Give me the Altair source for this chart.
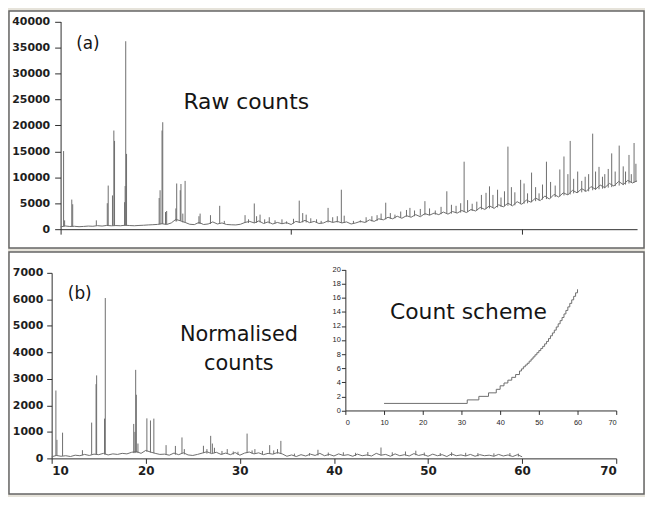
import altair as alt
import pandas as pd

# ---------------- (a) raw counts ----------------
raw_base_x = [10.0, 10.4, 10.8, 11.2, 11.6, 12.0, 12.4, 12.8, 13.2, 13.6,
              14.0, 14.4, 14.8, 15.2, 15.6, 16.0, 16.4, 16.8, 17.2, 17.6,
              18.0, 18.4, 18.8, 19.2, 19.6, 20.0, 20.4, 20.8, 21.2, 21.6,
              22.0, 22.4, 22.8, 23.2, 23.6, 24.0, 24.4, 24.8, 25.2, 25.6,
              26.0, 26.4, 26.8, 27.2, 27.6, 28.0, 28.4, 28.8, 29.2, 29.6,
              30.0, 30.4, 30.8, 31.2, 31.6, 32.0, 32.4, 32.8, 33.2, 33.6,
              34.0, 34.4, 34.8, 35.2, 35.6, 36.0, 36.4, 36.8, 37.2, 37.6,
              38.0, 38.4, 38.8, 39.2, 39.6, 40.0, 40.4, 40.8, 41.2, 41.6,
              42.0, 42.4, 42.8, 43.2, 43.6, 44.0, 44.4, 44.8, 45.2, 45.6,
              46.0, 46.4, 46.8, 47.2, 47.6, 48.0, 48.4, 48.8, 49.2, 49.6,
              50.0, 50.4, 50.8, 51.2, 51.6, 52.0, 52.4, 52.8, 53.2, 53.6,
              54.0, 54.4, 54.8, 55.2, 55.6, 56.0, 56.4, 56.8, 57.2, 57.6,
              58.0, 58.4, 58.8, 59.2, 59.6, 60.0]
raw_base_y = [450, 620, 520, 560, 480, 530, 600, 560, 680, 600,
              720, 650, 700, 660, 760, 700, 660, 720, 760, 820,
              860, 920, 1050, 900, 1200, 1900, 1600, 1300, 950, 880,
              1300, 900, 1000, 1400, 1000, 1200, 900, 850, 820, 950,
              1300, 1500, 1200, 1600, 1100, 1400, 1000, 1300, 1050, 1250,
              900, 1500, 1300, 1700, 1250, 1500, 1100, 1200, 1600, 1300,
              1500, 1200, 1400, 1000, 1200, 1500, 1300, 1800, 1500, 2000,
              1800, 2300, 2000, 2500, 2100, 2600, 2300, 2800, 2400, 3000,
              2700, 3100, 2800, 3300, 2900, 3400, 3100, 3600, 3200, 3800,
              3500, 4200, 3800, 4500, 4000, 4700, 4300, 5000, 4500, 5300,
              4800, 5600, 5200, 6000, 5500, 6400, 5800, 6700, 6200, 7000,
              6600, 7500, 7000, 7800, 7300, 8200, 7700, 8500, 8000, 8800,
              8300, 9200, 8600, 9400, 8900, 9300]

raw_peak_x = [10.26, 10.35, 10.97, 11.05, 13.1, 14.05, 14.13, 14.5, 14.62, 14.68,
              15.55, 15.6, 15.65, 15.72, 18.55, 18.63, 18.8, 18.86, 19.1, 19.2,
              20.0, 20.07, 20.38, 20.44, 20.6, 20.8, 22.0, 22.1, 23.0, 23.8,
              24.2, 26.0, 26.3, 26.8, 27.0, 27.3, 27.7, 28.1, 28.6, 29.2,
              29.6, 30.2, 30.7, 31.0, 31.3, 31.7, 32.2, 32.6, 33.2, 33.6,
              34.0, 34.35, 34.6, 35.4, 36.0, 36.5, 37.0, 37.45, 37.8, 38.2,
              38.6, 39.0, 39.5, 40.0, 40.3, 40.7, 41.2, 41.6, 42.0, 42.5,
              43.0, 43.5, 43.9, 44.3, 44.7, 45.0, 45.3, 45.7, 46.1, 46.5,
              46.9, 47.2, 47.5, 47.9, 48.2, 48.5, 48.8, 49.1, 49.4, 49.9,
              50.2, 50.5, 50.85, 51.2, 51.5, 51.8, 52.14, 52.5, 52.9, 53.3,
              53.66, 54.0, 54.2, 54.5, 54.85, 55.2, 55.5, 55.8, 56.15, 56.4,
              56.7, 57.0, 57.2, 57.5, 57.8, 58.1, 58.45, 58.8, 59.0, 59.3,
              59.5, 59.74, 59.9]
raw_peak_base = [550, 550, 520, 520, 650, 700, 700, 650, 650, 650,
                 700, 700, 700, 700, 950, 950, 1000, 1000, 950, 950,
                 1500, 1500, 1600, 1600, 1300, 1300, 1000, 1000, 1000, 1000,
                 1000, 1200, 1200, 1200, 1200, 1300, 1100, 1100, 1100, 1050,
                 1050, 1100, 1200, 1300, 1300, 1250, 1200, 1100, 1300, 1300,
                 1300, 1200, 1200, 1100, 1300, 1300, 1500, 1600, 1800, 1900,
                 2000, 2100, 2200, 2400, 2400, 2500, 2600, 2700, 2700, 2800,
                 2900, 3000, 3000, 3100, 3200, 3300, 3300, 3500, 3600, 3800,
                 3900, 4000, 4100, 4200, 4300, 4400, 4500, 4500, 4600, 4800,
                 4900, 5000, 5200, 5400, 5500, 5700, 5800, 6000, 6200, 6300,
                 6500, 6600, 6700, 6900, 7000, 7100, 7200, 7300, 7500, 7600,
                 7700, 7800, 7900, 8000, 8100, 8300, 8400, 8500, 8600, 8800,
                 8900, 9000, 9100]
raw_peak_top = [15050, 1700, 5700, 4800, 1700, 5000, 8400, 6500, 19000, 17000,
                5200, 8300, 36200, 14500, 6000, 7500, 19000, 20600, 3300, 3500,
                4000, 8800, 7500, 8700, 3000, 9300, 2500, 3000, 2700, 4500,
                1600, 2700, 1900, 4950, 2500, 2800, 1900, 2300, 1700, 1900,
                1500, 2000, 5500, 3100, 2800, 2100, 1900, 1600, 4100, 2300,
                2500, 7600, 2600, 1600, 1700, 2300, 2500, 2700, 3000, 5100,
                3100, 2800, 3400, 3700, 4100, 3600, 3900, 5400, 4000, 3600,
                4300, 7300, 4700, 4500, 5000, 13000, 5600, 4900, 5300, 6600,
                7000, 8250, 6600, 7600, 6100, 7300, 15900, 8100, 7100, 9500,
                8800, 6900, 10900, 8100, 6900, 8600, 13000, 9100, 8400, 11500,
                14000, 10600, 17000, 9700, 11100, 9300, 10100, 10600, 18400, 11100,
                12000, 10100, 10600, 11600, 14600, 11100, 16100, 12100, 11100, 14300,
                10600, 16600, 12600]

raw_y_ticks = [0, 5000, 10000, 15000, 20000, 25000, 30000, 35000, 40000]

# ---------------- (b) normalised counts ----------------
norm_base_x = [10.0, 10.5, 11.0, 11.5, 12.0, 12.5, 13.0, 13.5, 14.0, 14.5,
               15.0, 15.5, 16.0, 16.5, 17.0, 17.5, 18.0, 18.5, 19.0, 19.5,
               20.0, 20.5, 21.0, 21.5, 22.0, 22.5, 23.0, 23.5, 24.0, 24.5,
               25.0, 25.5, 26.0, 26.5, 27.0, 27.5, 28.0, 28.5, 29.0, 29.5,
               30.0, 30.5, 31.0, 31.5, 32.0, 32.5, 33.0, 33.5, 34.0, 34.5,
               35.0, 35.5, 36.0, 36.5, 37.0, 37.5, 38.0, 38.5, 39.0, 39.5,
               40.0, 40.5, 41.0, 41.5, 42.0, 42.5, 43.0, 43.5, 44.0, 44.5,
               45.0, 45.5, 46.0, 46.5, 47.0, 47.5, 48.0, 48.5, 49.0, 49.5,
               50.0, 50.5, 51.0, 51.5, 52.0, 52.5, 53.0, 53.5, 54.0, 54.5,
               55.0, 55.5, 56.0, 56.5, 57.0, 57.5, 58.0, 58.5, 59.0, 59.5,
               60.0]
norm_base_y = [60, 110, 80, 100, 70, 120, 100, 150, 110, 160,
               140, 190, 130, 170, 150, 190, 170, 230, 260, 190,
               300, 240, 190, 150, 160, 120, 200, 140, 210, 130,
               110, 150, 200, 250, 180, 230, 150, 200, 140, 220,
               120, 200, 240, 170, 210, 140, 190, 160, 220, 170,
               80, 130, 70, 140, 90, 160, 110, 190, 100, 150,
               90, 170, 110, 140, 80, 160, 100, 130, 90, 190,
               120, 150, 80, 170, 100, 140, 90, 180, 110, 150,
               80, 160, 100, 140, 70, 170, 100, 130, 90, 150,
               80, 140, 100, 120, 80, 150, 90, 130, 70, 140,
               60]

norm_peak_x = [10.45, 10.56, 11.16, 13.27, 14.25, 14.72, 14.78, 15.62, 15.7, 18.72,
               18.85, 18.93, 19.0, 19.17, 20.12, 20.5, 20.86, 22.16, 23.15, 23.85,
               24.1, 26.13, 26.5, 26.9, 27.08, 27.3, 28.1, 28.66, 29.3, 29.8,
               30.77, 31.3, 31.6, 32.4, 33.17, 33.6, 34.0, 34.36, 35.8, 37.4,
               38.3, 39.4, 41.0, 42.3, 43.6, 45.0, 46.2, 47.6, 48.7, 49.6,
               51.3, 52.5, 54.0, 55.3, 57.0, 58.7, 59.6]
norm_peak_base = [90, 90, 90, 120, 140, 160, 160, 150, 150, 200,
                  200, 220, 220, 200, 250, 220, 200, 150, 140, 180,
                  150, 200, 180, 200, 200, 200, 150, 170, 150, 140,
                  200, 180, 180, 150, 170, 160, 180, 170, 90, 100,
                  110, 100, 110, 90, 100, 110, 90, 110, 120, 100,
                  90, 90, 90, 80, 80, 80, 70]
norm_peak_top = [2560, 700, 970, 310, 1350, 2800, 3130, 1500, 6050, 1300,
                 1000, 3340, 2400, 560, 1510, 1430, 1500, 500, 470, 790,
                 350, 475, 350, 850, 560, 400, 280, 350, 260, 250,
                 935, 300, 350, 280, 500, 300, 350, 660, 180, 200,
                 325, 220, 230, 210, 240, 410, 230, 260, 290, 220,
                 200, 230, 210, 200, 190, 200, 180]

norm_x_ticks = [10, 20, 30, 40, 50, 60, 70]
norm_y_ticks = [0, 1000, 2000, 3000, 4000, 5000, 6000, 7000]

# ---------------- inset: count scheme ----------------
scheme_x = [10, 31.5, 34.5, 37, 39, 40, 41, 42, 43, 44, 45, 45.5, 46, 46.5, 47,
            47.5, 48, 48.5, 49, 49.5, 50, 50.5, 51, 51.5, 52, 52.5, 53, 53.5, 54,
            54.5, 55, 55.5, 56, 56.5, 57, 57.5, 58, 58.5, 59, 59.5, 60]
scheme_y = [1.0, 1.5, 2.0, 2.5, 3.0, 3.5, 3.9, 4.3, 4.7, 5.1, 5.6, 5.9, 6.2, 6.45, 6.7,
            7.0, 7.3, 7.6, 7.9, 8.2, 8.5, 8.8, 9.1, 9.45, 9.8, 10.2, 10.6, 11.0, 11.4,
            11.85, 12.3, 12.75, 13.2, 13.7, 14.2, 14.7, 15.2, 15.7, 16.2, 16.7, 17.2]
scheme_x_ticks = [0, 10, 20, 30, 40, 50, 60, 70]
scheme_y_ticks = [0, 2, 4, 6, 8, 10, 12, 14, 16, 18, 20]

# ---------------- styling ----------------
FONT = "DejaVu Sans"
TRACE = "#6e6e6e"
AXC = "#2e2e2e"
TXT = "#151515"

main_axis_style = dict(grid=False, title=None, domainColor=AXC, tickColor=AXC,
                       labelColor="#1e1e1e", labelFont=FONT, labelFontWeight="bold",
                       domainWidth=1, tickWidth=1)

# ---- top panel ----
raw_line_df = pd.DataFrame({"x": raw_base_x, "y": raw_base_y})
raw_peak_df = pd.DataFrame({"x": raw_peak_x, "base": raw_peak_base, "top": raw_peak_top})

top_xscale = alt.Scale(domain=[10, 60], range=[52, 633], nice=False, zero=False)
top_yscale = alt.Scale(domain=[0, 40000], range=[220, 10.7], nice=False, zero=False)
top_x_axis = alt.Axis(orient="bottom", offset=-19, values=[10, 30, 50], labels=False,
                      tickSize=5, **main_axis_style)
top_y_axis = alt.Axis(orient="left", offset=-52, values=raw_y_ticks, format="d",
                      tickSize=6, labelPadding=5, labelFontSize=11, **main_axis_style)

top_x = alt.X("x:Q", scale=top_xscale, axis=top_x_axis)

raw_line = alt.Chart(raw_line_df).mark_line(color=TRACE, strokeWidth=1).encode(
    x=top_x, y=alt.Y("y:Q", scale=top_yscale, axis=top_y_axis))
raw_rules = alt.Chart(raw_peak_df).mark_rule(color=TRACE, strokeWidth=1).encode(
    x=top_x, y=alt.Y("base:Q", scale=top_yscale, axis=top_y_axis), y2="top:Q")

lab_a = alt.Chart().mark_text(text="(a)", font=FONT, fontSize=17, color=TXT,
                              align="left", baseline="alphabetic").encode(
    x=alt.XDatum(11.35, scale=top_xscale, axis=top_x_axis),
    y=alt.YDatum(34700, scale=top_yscale, axis=top_y_axis))
lab_raw = alt.Chart().mark_text(text="Raw counts", font=FONT, fontSize=22, color=TXT,
                                align="left", baseline="alphabetic").encode(
    x=alt.XDatum(20.65, scale=top_xscale, axis=top_x_axis),
    y=alt.YDatum(23180, scale=top_yscale, axis=top_y_axis))

top = alt.layer(raw_line, raw_rules, lab_a, lab_raw).properties(width=640, height=239)

# ---- bottom panel ----
norm_line_df = pd.DataFrame({"x": norm_base_x, "y": norm_base_y})
norm_peak_df = pd.DataFrame({"x": norm_peak_x, "base": norm_peak_base, "top": norm_peak_top})

bot_xscale = alt.Scale(domain=[10, 70], range=[43, 612], nice=False, zero=False)
bot_yscale = alt.Scale(domain=[0, 7000], range=[208, 21], nice=False, zero=False)
bot_x_axis = alt.Axis(orient="bottom", offset=-36, values=norm_x_ticks, format="d",
                      tickSize=5, labelPadding=2, labelFontSize=12, **main_axis_style)
bot_y_axis = alt.Axis(orient="left", offset=-43, values=norm_y_ticks, format="d",
                      tickSize=5, labelPadding=4, labelFontSize=11, **main_axis_style)

bot_x = alt.X("x:Q", scale=bot_xscale, axis=bot_x_axis)

norm_line = alt.Chart(norm_line_df).mark_line(color=TRACE, strokeWidth=1).encode(
    x=bot_x, y=alt.Y("y:Q", scale=bot_yscale, axis=bot_y_axis))
norm_rules = alt.Chart(norm_peak_df).mark_rule(color=TRACE, strokeWidth=1).encode(
    x=bot_x, y=alt.Y("base:Q", scale=bot_yscale, axis=bot_y_axis), y2="top:Q")

lab_b = alt.Chart().mark_text(text="(b)", font=FONT, fontSize=17, color=TXT,
                              align="left", baseline="alphabetic").encode(
    x=alt.XDatum(11.72, scale=bot_xscale, axis=bot_x_axis),
    y=alt.YDatum(6000, scale=bot_yscale, axis=bot_y_axis))
lab_norm = alt.Chart().mark_text(text=["Normalised", "counts"], font=FONT, fontSize=21,
                                 lineHeight=29, color=TXT, align="center",
                                 baseline="alphabetic").encode(
    x=alt.XDatum(29.9, scale=bot_xscale, axis=bot_x_axis),
    y=alt.YDatum(4428, scale=bot_yscale, axis=bot_y_axis))
lab_scheme = alt.Chart().mark_text(text="Count scheme", font=FONT, fontSize=22, color=TXT,
                                   align="left", baseline="alphabetic").encode(
    x=alt.XDatum(45.96, scale=bot_xscale, axis=bot_x_axis),
    y=alt.YDatum(5240, scale=bot_yscale, axis=bot_y_axis))

main_bottom = alt.layer(norm_line, norm_rules, lab_b, lab_norm, lab_scheme)

inset_axis_style = dict(grid=False, title=None, domainColor=AXC, tickColor=AXC,
                        labelColor="#1e1e1e", labelFont="Liberation Sans",
                        labelFontSize=7.5, tickSize=4, domainWidth=1, tickWidth=1)
scheme_df = pd.DataFrame({"x": scheme_x, "y": scheme_y})
inset = alt.Chart(scheme_df).mark_line(color=TRACE, strokeWidth=1,
                                       interpolate="step-after").encode(
    x=alt.X("x:Q", scale=alt.Scale(domain=[0, 70], range=[339, 612], nice=False, zero=False),
            axis=alt.Axis(orient="bottom", offset=-84.3, values=scheme_x_ticks,
                          labelPadding=4, **inset_axis_style)),
    y=alt.Y("y:Q", scale=alt.Scale(domain=[0, 20], range=[159.7, 17.7], nice=False, zero=False),
            axis=alt.Axis(orient="left", offset=-339, values=scheme_y_ticks,
                          labelPadding=1, **inset_axis_style)),
)

bottom = alt.layer(main_bottom, inset).resolve_scale(
    x="independent", y="independent").properties(width=640, height=244)

chart = alt.vconcat(top, bottom, spacing=4, bounds="flush").properties(
    padding={"left": 0, "top": 0, "right": 0, "bottom": 0}, background="#e6e3da"
).configure_view(stroke="#666666", strokeWidth=1.5, fill="white")

chart.save("out.html", embed_options={"renderer": "svg", "actions": False})
